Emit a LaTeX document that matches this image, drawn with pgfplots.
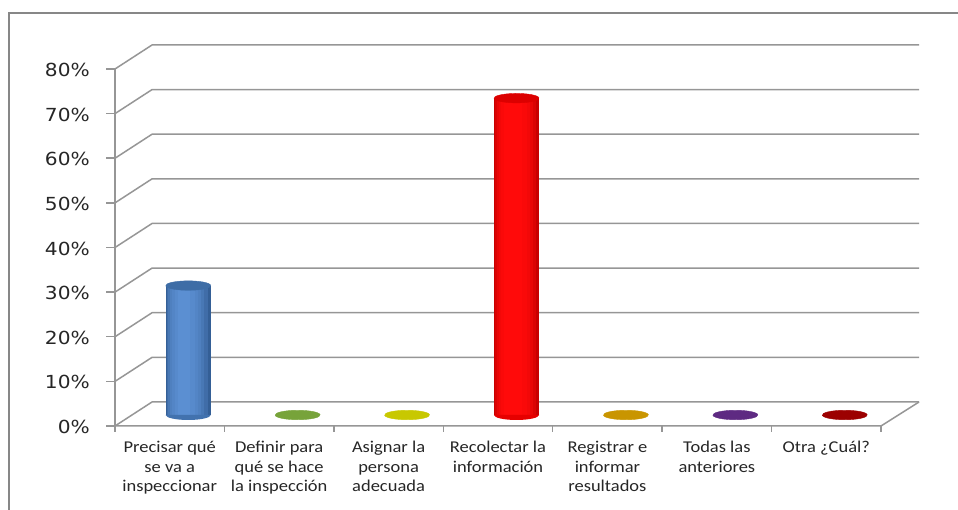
\documentclass[border=0pt]{standalone}
\usepackage{pgfplots}
\pgfplotsset{compat=1.18}
\usepackage{fontspec}
\setmainfont{Carlito}[FakeStretch=1.12]
\newfontfamily\ylabfont{DejaVu Sans}[FakeStretch=1.12]
\definecolor{gridc}{HTML}{969696}
\definecolor{framec}{HTML}{878787}
\definecolor{blueL}{HTML}{345F96}
\definecolor{blueM}{HTML}{5B8FD2}
\definecolor{blueT}{HTML}{3E6DA6}
\definecolor{blueB}{HTML}{4272AE}
\definecolor{redL}{HTML}{C80000}
\definecolor{redM}{HTML}{FF0A0A}
\definecolor{redT}{HTML}{DC0000}
\definecolor{redB}{HTML}{E60000}
\definecolor{cgreen}{HTML}{77A33A}
\definecolor{cyellow}{HTML}{C8C800}
\definecolor{cgold}{HTML}{C99500}
\definecolor{cpurple}{HTML}{5E2A82}
\definecolor{cdred}{HTML}{9C0000}
\pgfdeclareplotmark{halfell}{%
  \pgfpathmoveto{\pgfqpoint{-22.5pt}{0pt}}%
  \pgfpatharc{180}{360}{22.5pt and 5pt}%
  \pgfpathclose
  \pgfusepathqfill}
\newcommand\layer[4]{\addplot[ybar, bar width=#2, bar shift=#3, draw=none, fill=#4] coordinates {#1};}
\begin{document}
\begin{tikzpicture}
\path[use as bounding box] (0pt,0pt) rectangle (958pt,510pt);
\clip (0pt,0pt) rectangle (958pt,510pt);
\draw[framec, line width=1.6pt] (9pt,-10pt) -- (9pt,497pt) -- (970pt,497pt);
\begin{axis}[
  at={(133.5pt,95pt)}, anchor=south west,
  scale only axis, width=766pt, height=357pt,
  xmin=0, xmax=7, ymin=0, ymax=80,
  axis line style={draw=none},
  major tick length=0pt,
  clip=false,
  ytick={0,10,...,80},
  yticklabels={0\%,10\%,20\%,30\%,40\%,50\%,60\%,70\%,80\%},
  yticklabel style={font=\ylabfont\fontsize{18}{20}\selectfont, anchor=east, inner sep=0pt, xshift=-43.5pt, yshift=-12pt, text=black!85},
  xtick={0.5,1.5,...,6.5},
  xticklabels={{Precisar qué\\se va a\\inspeccionar},{Definir para\\qué se hace\\la inspección},{Asignar la\\persona\\adecuada},{Recolectar la\\información},{Registrar e\\informar\\resultados},{Todas las\\anteriores},{Otra ¿Cuál?}},
  xticklabel style={font=\fontsize{16.5}{19.5}\selectfont, align=center, anchor=north, inner sep=0pt, xshift=-18.5pt, yshift=-26pt, text=black!85},
  mk/.style={only marks, color=#1, mark=*, mark size=22.5pt, mark options={draw=#1, fill=#1, yscale=0.21, rotate=4}},
  bk/.style={only marks, color=#1, mark=halfell, mark options={draw=none, fill=#1}},
]
% back wall, side wall and floor
\pgfplotsinvokeforeach{0,10,...,80}{
  \draw[gridc, line width=1.5pt] ([shift={(-18.5pt,-11pt)}]axis cs:0,#1) -- ([shift={(18.5pt,13pt)}]axis cs:0,#1) -- ([shift={(19.5pt,13pt)}]axis cs:7,#1);
}
\draw[gridc, line width=1.5pt] ([shift={(-18.5pt,-11pt)}]axis cs:0,0) -- ([shift={(-18.5pt,-11pt)}]axis cs:7,0) -- ([shift={(19.5pt,13pt)}]axis cs:7,0);
\draw[gridc, line width=1.5pt] ([shift={(-18.5pt,-11pt)}]axis cs:0,0) -- ([shift={(-18.5pt,-11pt)}]axis cs:0,80);
\pgfplotsinvokeforeach{0,10,...,80}{
  \draw[gridc, line width=1.5pt] ([shift={(-18.5pt,-11pt)}]axis cs:0,#1) -- ([shift={(-27.5pt,-11pt)}]axis cs:0,#1);
}
\pgfplotsinvokeforeach{0,1,...,7}{
  \draw[gridc, line width=1.5pt] ([shift={(-18.5pt,-11pt)}]axis cs:#1,0) -- ([shift={(-18.5pt,-17pt)}]axis cs:#1,0);
}
% flat (zero) values
\addplot[mk=cgreen] coordinates {(1.5,0)};
\addplot[mk=cyellow] coordinates {(2.5,0)};
\addplot[mk=cgold] coordinates {(4.5,0)};
\addplot[mk=cpurple] coordinates {(5.5,0)};
\addplot[mk=cdred] coordinates {(6.5,0)};
% cylinder bases
\addplot[bk=blueB] coordinates {(0.5,0)};
\addplot[bk=redB] coordinates {(3.5,0)};
% cylinder bodies (nested bars give the round shading)
\layer{(0.5,29)}{45pt}{0pt}{blueL}
\layer{(0.5,29)}{41pt}{-1pt}{blueM!30!blueL}
\layer{(0.5,29)}{36pt}{-2pt}{blueM!52!blueL}
\layer{(0.5,29)}{31pt}{-2.5pt}{blueM!68!blueL}
\layer{(0.5,29)}{26pt}{-3pt}{blueM!80!blueL}
\layer{(0.5,29)}{20pt}{-3.5pt}{blueM!90!blueL}
\layer{(0.5,29)}{12pt}{-4pt}{blueM}
\layer{(3.5,71)}{45pt}{0pt}{redL}
\layer{(3.5,71)}{41pt}{-1pt}{redM!35!redL}
\layer{(3.5,71)}{36pt}{-2pt}{redM!60!redL}
\layer{(3.5,71)}{31pt}{-2.5pt}{redM!78!redL}
\layer{(3.5,71)}{26pt}{-3pt}{redM!90!redL}
\layer{(3.5,71)}{18pt}{-3.5pt}{redM}
% cylinder tops
\addplot[mk=blueT] coordinates {(0.5,29)};
\addplot[mk=redT] coordinates {(3.5,71)};
\end{axis}
\end{tikzpicture}
\end{document}
